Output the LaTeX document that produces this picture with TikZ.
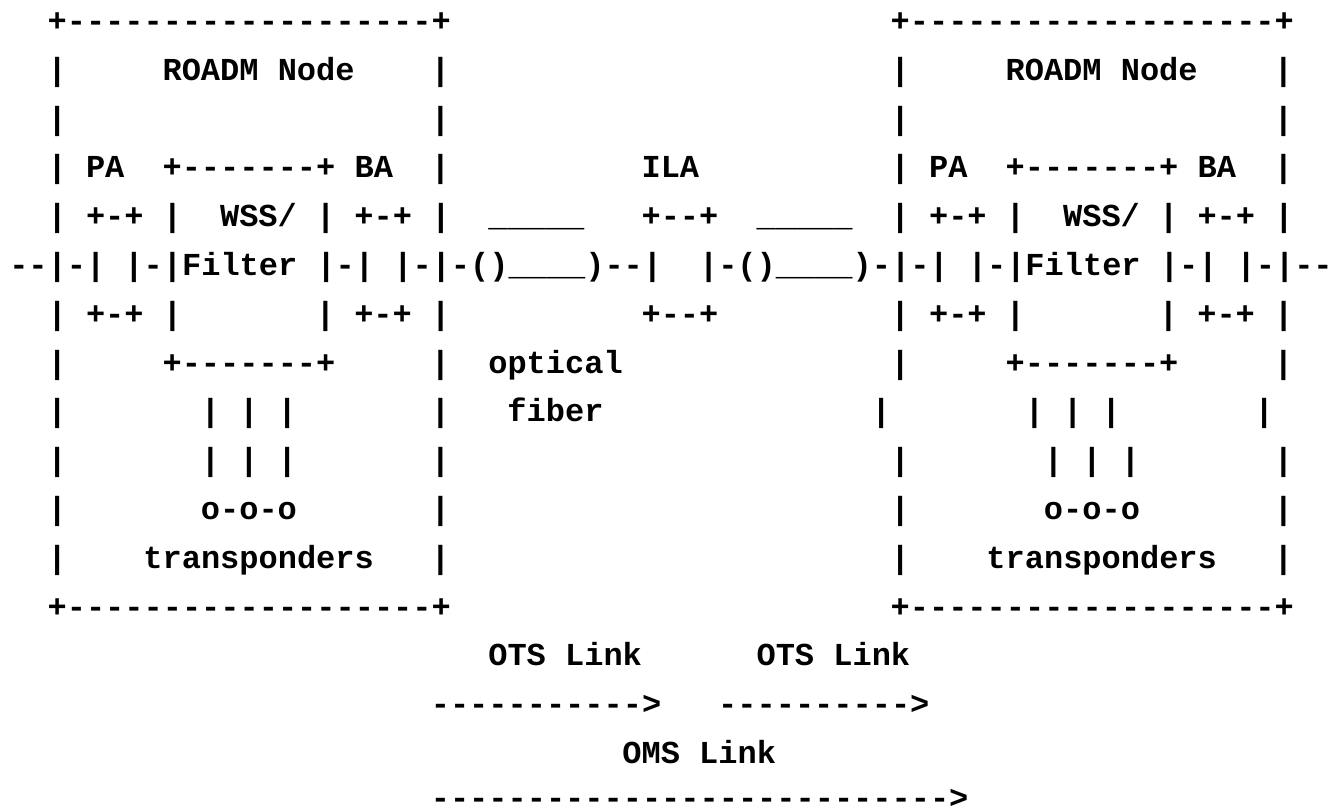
\documentclass[tikz,border=0pt]{standalone}
\usepackage{fontspec}
\setmonofont{Liberation Mono}
\tikzset{
  asc/.style={font=\fontsize{32}{38}\selectfont\ttfamily\bfseries, inner sep=0pt, outer sep=0pt, text depth=0pt, anchor=base west, text=black}
}
% place a run of characters: name, column, row, text
\newcommand\tok[4]{\node[asc] (#1) at ({(9.3+#2*19.16)*1pt}, {-(31.4+#3*48.8)*1pt}) {#4};}
\begin{document}
\begin{tikzpicture}
\fill[white] (0,0) rectangle (1332pt,-809pt);
\useasboundingbox (0,0) rectangle (1332pt,-809pt);
% row 0: box tops
\tok{topL}{2}{0}{+-------------------+}
\tok{topR}{46}{0}{+-------------------+}
% row 1
\tok{a1}{2}{1}{|}
\tok{roadmL}{8}{1}{ROADM Node}
\tok{b1}{22}{1}{|}
\tok{c1}{46}{1}{|}
\tok{roadmR}{52}{1}{ROADM Node}
\tok{d1}{66}{1}{|}
% row 2
\tok{a2}{2}{2}{|}
\tok{b2}{22}{2}{|}
\tok{c2}{46}{2}{|}
\tok{d2}{66}{2}{|}
% row 3
\tok{paL}{2}{3}{| PA}
\tok{wssTopL}{8}{3}{+-------+ BA}
\tok{b3}{22}{3}{|}
\tok{ila}{33}{3}{ILA}
\tok{paR}{46}{3}{| PA}
\tok{wssTopR}{52}{3}{+-------+ BA}
\tok{d3}{66}{3}{|}
% row 4
\tok{ampTopL}{2}{4}{| +-+ |}
\tok{wssL}{11}{4}{WSS/ | +-+ |}
\tok{fibTop1}{25}{4}{\_\_\_\_\_}
\tok{ilaTop}{33}{4}{+--+}
\tok{fibTop2}{39}{4}{\_\_\_\_\_}
\tok{ampTopR}{46}{4}{| +-+ |}
\tok{wssR}{55}{4}{WSS/ | +-+ |}
% row 5: the signal path
\tok{pathL}{0}{5}{--|-| |-|Filter |-| |-|-()\_\_\_\_)--|}
\tok{pathR}{36}{5}{|-()\_\_\_\_)-|-| |-|Filter |-| |-|--}
% row 6
\tok{paBotL}{2}{6}{| +-+ |}
\tok{baBotL}{16}{6}{| +-+ |}
\tok{ilaBot}{33}{6}{+--+}
\tok{paBotR}{46}{6}{| +-+ |}
\tok{baBotR}{60}{6}{| +-+ |}
% row 7
\tok{a7}{2}{7}{|}
\tok{wssBotL}{8}{7}{+-------+}
\tok{b7}{22}{7}{|}
\tok{optical}{25}{7}{optical}
\tok{c7}{46}{7}{|}
\tok{wssBotR}{52}{7}{+-------+}
\tok{d7}{66}{7}{|}
% row 8
\tok{a8}{2}{8}{|}
\tok{portsL8}{10}{8}{| | |}
\tok{b8}{22}{8}{|}
\tok{fiber}{26}{8}{fiber}
\tok{c8}{45}{8}{|}
\tok{portsR8}{53}{8}{| | |}
\tok{d8}{65}{8}{|}
% row 9
\tok{a9}{2}{9}{|}
\tok{portsL9}{10}{9}{| | |}
\tok{b9}{22}{9}{|}
\tok{c9}{46}{9}{|}
\tok{portsR9}{54}{9}{| | |}
\tok{d9}{66}{9}{|}
% row 10
\tok{a10}{2}{10}{|}
\tok{trxL}{10}{10}{o-o-o}
\tok{b10}{22}{10}{|}
\tok{c10}{46}{10}{|}
\tok{trxR}{54}{10}{o-o-o}
\tok{d10}{66}{10}{|}
% row 11
\tok{a11}{2}{11}{|}
\tok{transpL}{7}{11}{transponders}
\tok{b11}{22}{11}{|}
\tok{c11}{46}{11}{|}
\tok{transpR}{51}{11}{transponders}
\tok{d11}{66}{11}{|}
% row 12: box bottoms
\tok{botL}{2}{12}{+-------------------+}
\tok{botR}{46}{12}{+-------------------+}
% link legend
\tok{ots1}{25}{13}{OTS Link}
\tok{ots2}{39}{13}{OTS Link}
\tok{otsArr1}{22}{14}{----------->}
\tok{otsArr2}{37}{14}{---------->}
\tok{oms}{32}{15}{OMS Link}
\tok{omsArr}{22}{15.92}{--------------------------->}
\end{tikzpicture}
\end{document}
